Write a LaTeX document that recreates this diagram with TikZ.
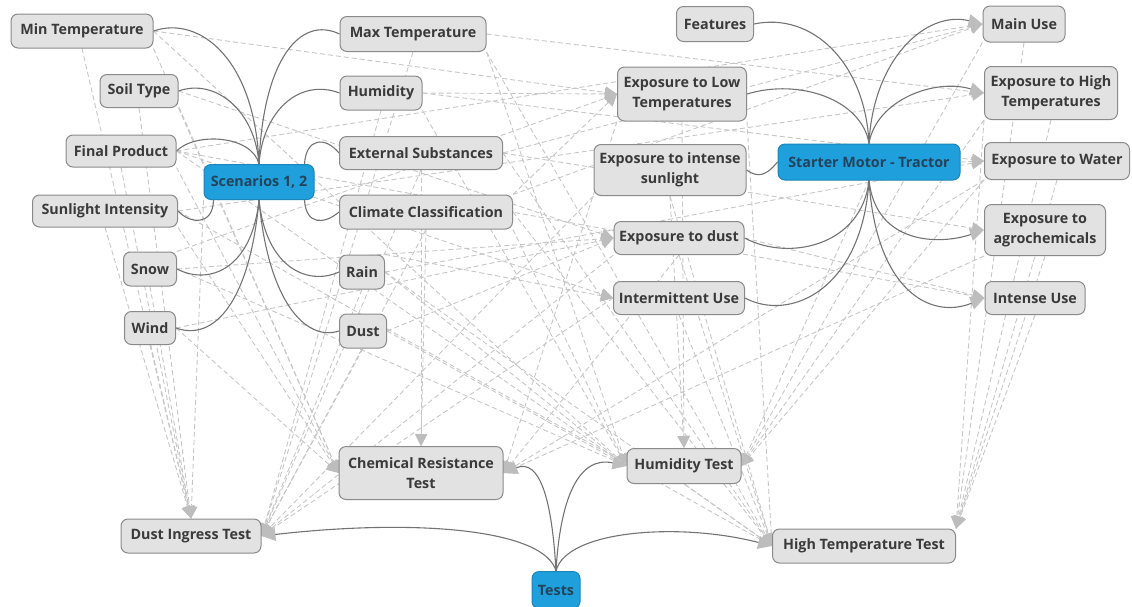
\documentclass[tikz,border=0pt]{standalone}
\usepackage{fontspec}
\setmainfont{Open Sans}
\usetikzlibrary{arrows.meta}
\definecolor{boxfill}{HTML}{E2E2E2}
\definecolor{boxdraw}{HTML}{8A8A8A}
\definecolor{boxtext}{HTML}{3A3A3A}
\definecolor{bluefill}{HTML}{1FA0DC}
\definecolor{bluedraw}{HTML}{1A86BA}
\definecolor{bluetext}{HTML}{24435A}
\definecolor{linkcol}{HTML}{737373}
\definecolor{depcol}{HTML}{C6C6C6}
\definecolor{tipcol}{HTML}{BDBDBD}
\pgfdeclarelayer{bg}
\pgfsetlayers{bg,main}
\tikzset{
  box/.style={draw=boxdraw, fill=boxfill, rounded corners=7pt, line width=1pt,
    font=\fontsize{14.3}{20}\selectfont\bfseries, text=boxtext, align=center, inner sep=2pt},
  bluebox/.style={box, fill=bluefill, draw=bluedraw, text=bluetext},
  link/.style={draw=linkcol, line width=1.1pt},
  linkarrow/.style={link, -{Triangle[length=14pt,width=13pt,color=tipcol]}},
  dep/.style={draw=depcol, dash pattern=on 5pt off 3pt, line width=0.9pt,
    -{Triangle[length=12pt,width=12pt,color=tipcol]}}
}
\begin{document}
\begin{tikzpicture}[x=1pt,y=-1pt]
\useasboundingbox (0,0) rectangle (1132,606);
% ---------- nodes ----------
\node[box, minimum width=142pt, minimum height=34pt] (mint) at (82,31) {Min Temperature};
\node[box, minimum width=78pt, minimum height=33pt] (soil) at (139,91) {Soil Type};
\node[box, minimum width=110pt, minimum height=32pt] (fp) at (121,151) {Final Product};
\node[box, minimum width=145pt, minimum height=32pt] (sun) at (105,211) {Sunlight Intensity};
\node[box, minimum width=53pt, minimum height=34pt] (snow) at (150,269) {Snow};
\node[box, minimum width=51pt, minimum height=33pt] (wind) at (150,328) {Wind};
\node[bluebox, minimum width=110pt, minimum height=35pt] (scen) at (259,182) {Scenarios 1, 2};
\node[box, minimum width=146pt, minimum height=35pt] (maxt) at (413,34) {Max Temperature};
\node[box, minimum width=82pt, minimum height=34pt] (hum) at (381,93) {Humidity};
\node[box, minimum width=163pt, minimum height=33pt] (ext) at (421,153) {External Substances};
\node[box, minimum width=173pt, minimum height=34pt] (clim) at (426,212) {Climate Classification};
\node[box, minimum width=45pt, minimum height=34pt] (rain) at (362,272) {Rain};
\node[box, minimum width=47pt, minimum height=34pt] (dust) at (363,331) {Dust};
\node[box, minimum width=77pt, minimum height=35pt] (feat) at (715,24) {Features};
\node[box, minimum width=129pt, minimum height=54pt] (el) at (682,94) {Exposure to Low\\Temperatures};
\node[box, minimum width=152pt, minimum height=51pt] (eis) at (670,170) {Exposure to intense\\sunlight};
\node[bluebox, minimum width=182pt, minimum height=36pt] (sm) at (869,162) {Starter Motor - Tractor};
\node[box, minimum width=130pt, minimum height=33pt] (ed) at (679,238) {Exposure to dust};
\node[box, minimum width=131pt, minimum height=33pt] (iu) at (679,298) {Intermittent Use};
\node[box, minimum width=82pt, minimum height=36pt] (mu) at (1024,24) {Main Use};
\node[box, minimum width=133pt, minimum height=53pt] (eh) at (1051,93) {Exposure to High\\Temperatures};
\node[box, minimum width=145pt, minimum height=37pt] (wat) at (1057,161) {Exposure to Water};
\node[box, minimum width=121pt, minimum height=51pt] (agro) at (1045,230) {Exposure to\\agrochemicals};
\node[box, minimum width=100pt, minimum height=33pt] (ins) at (1035,298) {Intense Use};
\node[box, minimum width=164pt, minimum height=53pt] (crt) at (421,473) {Chemical Resistance\\Test};
\node[box, minimum width=114pt, minimum height=35pt] (ht) at (684,466) {Humidity Test};
\node[box, minimum width=140pt, minimum height=34pt] (dit) at (191,536) {Dust Ingress Test};
\node[box, minimum width=183pt, minimum height=34pt] (hte) at (864,546) {High Temperature Test};
\node[bluebox, minimum width=48pt, minimum height=37pt] (tests) at (556,590) {Tests};

\begin{pgfonlayer}{bg}
% ---------- dashed dependencies ----------
% to Dust Ingress Test (top)
\draw[dep] (mint.south) -- (dit.north);
\draw[dep] (soil.south) -- (dit.north);
\draw[dep] (fp.south) -- (dit.north);
\draw[dep] (sun.south) -- (dit.north);
\draw[dep] (snow.south) -- (dit.north);
\draw[dep] (wind.south) -- (dit.north);
\draw[dep] (scen.south west) -- (dit.north);
% to Dust Ingress Test (right)
\draw[dep] (hum.south) -- (dit.east);
\draw[dep] (ext.south) -- (dit.east);
\draw[dep] (clim.south) -- (dit.east);
\draw[dep] (rain.south) -- (dit.east);
\draw[dep] (dust.south) -- (dit.east);
\draw[dep] (maxt.south) -- (dit.east);
\draw[dep] (ed.south west) -- (dit.east);
\draw[dep] (eis.south west) -- (dit.east);
\draw[dep] (iu.west) -- (dit.east);
% to Chemical Resistance Test
\draw[dep] (mint.south east) -- (crt.west);
\draw[dep] (soil.south east) -- (crt.west);
\draw[dep] (fp.south east) -- (crt.west);
\draw[dep] (sun.south east) -- (crt.west);
\draw[dep] (wind.east) -- (crt.west);
\draw[dep] (clim.south) -- (crt.north);
\draw[dep] (ext.south) -- (crt.north);
\draw[dep] (agro.south west) -- (crt.east);
\draw[dep] (ed.south) -- (crt.east);
\draw[dep] (wat.south west) -- (crt.east);
\draw[dep] (el.south west) -- (crt.east);
% to Humidity Test
\draw[dep] (hum.south east) -- (ht.west);
\draw[dep] (rain.east) -- (ht.west);
\draw[dep] (snow.east) -- (ht.west);
\draw[dep] (mint.east) -- (ht.west);
\draw[dep] (dust.east) -- (ht.west);
\draw[dep] (clim.south east) -- (ht.west);
\draw[dep] (fp.east) -- (ht.west);
\draw[dep] (maxt.south east) -- (ht.west);
\draw[dep] (el.south) -- (ht.north);
\draw[dep] (eis.south) -- (ht.north);
\draw[dep] (mu.south west) -- (ht.east);
\draw[dep] (wat.south west) -- (ht.east);
\draw[dep] (eh.south west) -- (ht.east);
\draw[dep] (sm.south) -- (ht.east);
% to High Temperature Test
\draw[dep] (maxt.south east) -- (hte.west);
\draw[dep] (sun.east) -- (hte.west);
\draw[dep] (clim.east) -- (hte.west);
\draw[dep] (ext.east) -- (hte.west);
\draw[dep] (rain.east) -- (hte.west);
\draw[dep] (eis.south) -- (hte.west);
\draw[dep] (ed.south) -- (hte.west);
\draw[dep] (iu.south) -- (hte.west);
\draw[dep] (el.south east) -- (hte.west);
\draw[dep] (ht.south) -- (hte.west);
\draw[dep] (mu.south) -- (hte.north east);
\draw[dep] (eh.south) -- (hte.north east);
\draw[dep] (eh.south west) -- (hte.north east);
\draw[dep] (wat.south) -- (hte.north east);
\draw[dep] (agro.south) -- (hte.north east);
\draw[dep] (ins.south) -- (hte.north east);
% scenario attributes to starter motor exposures
\draw[dep] (mint.east) -- (el.west);
\draw[dep] (snow.north east) -- (el.west);
\draw[dep] (hum.east) -- (el.west);
\draw[dep] (clim.north east) -- (el.west);
\draw[dep] (maxt.east) -- (eh.west);
\draw[dep] (sun.east) -- (eh.west);
\draw[dep] (hum.east) -- (wat.west);
\draw[dep] (rain.east) -- (wat.west);
\draw[dep] (dust.east) -- (ed.west);
\draw[dep] (wind.east) -- (ed.west);
\draw[dep] (soil.east) -- (ed.west);
\draw[dep] (snow.east) -- (ed.west);
\draw[dep] (fp.east) -- (iu.west);
\draw[dep] (rain.north east) -- (iu.west);
\draw[dep] (fp.east) -- (mu.west);
\draw[dep] (ext.east) -- (mu.west);
\draw[dep] (clim.north east) -- (mu.west);
\draw[dep] (ext.east) -- (agro.west);
\draw[dep] (fp.east) -- (ins.west);
\draw[dep] (ed.east) -- (ins.west);
\draw[dep] (sm.east) -- (wat.west);

% ---------- solid links: Scenarios ----------
\draw[link] (scen.north) .. controls (255,60) and (200,15) .. (mint.east);
\draw[link] (scen.north) .. controls (263,60) and (300,15) .. (maxt.west);
\draw[link] (scen.north) .. controls (255,110) and (215,78) .. (soil.east);
\draw[link] (scen.north) .. controls (263,110) and (300,78) .. (hum.west);
\draw[link] (scen.north) .. controls (252,135) and (195,132) .. (fp.east);
\draw[link] ([xshift=-10pt]scen.north east) .. controls (306,138) and (325,136) .. (ext.west);
\draw[link] ([xshift=10pt]scen.south west) .. controls (213,226) and (190,224) .. (sun.east);
\draw[link] ([xshift=-10pt]scen.south east) .. controls (306,226) and (325,224) .. (clim.west);
\draw[link] (scen.south) .. controls (252,268) and (210,286) .. (snow.east);
\draw[link] (scen.south) .. controls (266,268) and (308,286) .. (rain.west);
\draw[link] (scen.south) .. controls (250,300) and (215,342) .. (wind.east);
\draw[link] (scen.south) .. controls (268,300) and (305,342) .. (dust.west);
% ---------- solid links: Starter Motor ----------
\draw[link] (sm.north) .. controls (865,60) and (810,12) .. (feat.east);
\draw[linkarrow] (sm.north) .. controls (873,60) and (925,10) .. (mu.west);
\draw[link] (sm.north) .. controls (862,100) and (800,78) .. (el.east);
\draw[linkarrow] (sm.north) .. controls (876,100) and (935,78) .. (eh.west);
\draw[link] (eis.east) .. controls (758,178) and (766,176) .. (sm.west);
\draw[link] (sm.south) .. controls (862,245) and (790,262) .. (ed.east);
\draw[link] (sm.south) .. controls (862,290) and (790,322) .. (iu.east);
\draw[linkarrow] (sm.south) .. controls (876,245) and (940,245) .. (agro.west);
\draw[linkarrow] (sm.south) .. controls (876,290) and (930,320) .. (ins.west);
% ---------- solid links: Tests ----------
\draw[linkarrow] (tests.north) .. controls (545,530) and (420,518) .. (dit.east);
\draw[linkarrow] (tests.north) .. controls (552,500) and (540,458) .. (crt.east);
\draw[linkarrow] (tests.north) .. controls (560,500) and (578,455) .. (ht.west);
\draw[linkarrow] (tests.north) .. controls (566,530) and (680,522) .. (hte.west);
\end{pgfonlayer}
\end{tikzpicture}
\end{document}
